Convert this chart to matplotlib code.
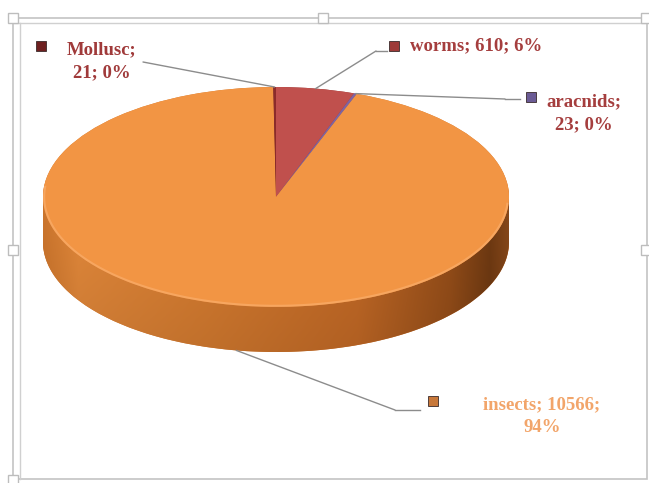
import numpy as np
import matplotlib
matplotlib.use('Agg')
import matplotlib.pyplot as plt
from matplotlib.path import Path
from matplotlib.patches import PathPatch, Rectangle

# ---- data (clockwise from 12 o'clock) ----
categories = ['worms', 'aracnids', 'insects', 'Mollusc']
values = [610, 23, 10566, 21]
percent_labels = ['6%', '0%', '94%', '0%']

# ---- styles ----
top_colors = ['#C0504D', '#8064A2', '#F29544', '#8B2B2B']
side_colors = ['#8E3A37', '#5E4A7A', '#D07A35', '#6A2020']
marker_colors = ['#9E3A38', '#6B5B95', '#C8783A', '#6E2020']
text_colors = ['#A53E3E', '#A53E3E', '#F2A56A', '#A03A3A']

W, H = 649, 483
fig = plt.figure(figsize=(W / 100, H / 100), dpi=100)
fig.patch.set_facecolor('white')

depth = 0.41
ax_pie = fig.add_axes([43 / W, (H - 352) / H, 466 / W, 265 / H])

# side of the 3D pie: stacked layers
n_layers = 40
for i in range(n_layers + 1):
    d = depth * (1 - i / n_layers)
    ax_pie.pie(values, colors=side_colors, startangle=90, counterclock=False,
               center=(0, -d), radius=1, wedgeprops=dict(linewidth=0))

# shading gradient over the visible side
t = np.linspace(np.pi, 2 * np.pi, 300)
verts = list(zip(np.cos(t), np.sin(t))) + list(zip(np.cos(t[::-1]), np.sin(t[::-1]) - depth))
verts.append(verts[0])
codes = [Path.MOVETO] + [Path.LINETO] * (len(verts) - 2) + [Path.CLOSEPOLY]
side_path = Path(verts, codes)
clip_patch = PathPatch(side_path, facecolor='none', edgecolor='none', transform=ax_pie.transData)
ax_pie.add_patch(clip_patch)

gx = np.linspace(-1, 1, 400)
stops_x = [-1.0, -0.85, -0.3, 0.35, 0.75, 0.92, 1.0]
stops_c = np.array([(205, 118, 45), (226, 136, 58), (214, 124, 48), (196, 106, 38),
                    (150, 78, 25), (112, 58, 18), (135, 72, 26)]) / 255.0
row = np.stack([np.interp(gx, stops_x, stops_c[:, k]) for k in range(3)], axis=-1)
gy = np.linspace(0, 1, 100)[:, None, None]
img = row[None, :, :] * (1.0 - 0.10 * gy)
img = np.clip(img, 0, 1)
im = ax_pie.imshow(img, extent=(-1, 1, -1 - depth, 0), origin='upper', aspect='auto',
                   interpolation='bilinear', zorder=3)
im.set_clip_path(clip_patch)

# top face
wedges, _ = ax_pie.pie(values, colors=top_colors, startangle=90, counterclock=False,
                       center=(0, 0), radius=1, wedgeprops=dict(linewidth=0))
for w in wedges:
    w.set_zorder(4)

# bevel highlight on the front edge of top
tt = np.linspace(np.pi * 0.97, 2 * np.pi * 0.99, 300)
ax_pie.plot(np.cos(tt) * 0.995, np.sin(tt) * 0.99, color='#FFC08A', lw=1.5, alpha=0.4, zorder=5)

ax_pie.set_xlim(-1, 1)
ax_pie.set_ylim(-1 - depth, 1)
ax_pie.set_aspect('auto')
ax_pie.axis('off')

# ---- overlay (pixel coordinates) ----
ax = fig.add_axes([0, 0, 1, 1], zorder=5)
ax.set_xlim(0, W)
ax.set_ylim(H, 0)
ax.axis('off')
ax.patch.set_alpha(0)

# frame with selection handles
ax.add_patch(Rectangle((13, 18), 634, 461, fill=False, ec='#C4C4C4', lw=1.2))
ax.plot([20, 20], [23, 479], color='#D0D0D0', lw=1)
ax.plot([13, 647], [23, 23], color='#D0D0D0', lw=1)
for hx, hy in [(13, 18), (323, 18), (646, 18), (13, 250), (646, 250), (13, 480)]:
    ax.add_patch(Rectangle((hx - 5, hy - 5), 10, 10, fc='white', ec='#BDBDBD', lw=1, zorder=6))

# label geometry
total = sum(values)
cum = np.cumsum([0] + values[:-1])
mid_angles = [np.deg2rad(90 - 360 * (c + v / 2) / total) for c, v in zip(cum, values)]

label_lines = {
    'worms': f'{categories[0]}; {values[0]}; {percent_labels[0]}',
    'aracnids': f'{categories[1]};\n{values[1]}; {percent_labels[1]}',
    'insects': f'{categories[2]}; {values[2]};\n{percent_labels[2]}',
    'Mollusc': f'{categories[3]};\n{values[3]}; {percent_labels[3]}',
}
# (text x, text y, ha, marker x, marker y, elbow x, elbow y, line end x)
layout = {
    'worms': (410, 46, 'left', 394, 46, 376, 51, 387),
    'aracnids': (584, 113, 'center', 531, 97, 505, 99, 520),
    'insects': (542, 416, 'center', 433, 401, 395, 410, 420),
    'Mollusc': (102, 61, 'center', 41, 46, 143, 62, 143),
}
front = {'insects'}

font = dict(family=['Liberation Serif', 'DejaVu Serif'], weight='bold', size=13.5)
for i, cat in enumerate(categories):
    tx, ty, ha, mx, my, ex, ey, lx = layout[cat]
    a = mid_angles[i]
    px, py = np.cos(a), np.sin(a) - (depth if cat in front else 0)
    ax.annotate('', xy=(px, py), xycoords=ax_pie.transData, xytext=(ex, ey), textcoords='data',
                arrowprops=dict(arrowstyle='-', color='#8C8C8C', lw=1, shrinkA=0, shrinkB=0))
    if lx != ex:
        ax.plot([ex, lx], [ey, ey], color='#8C8C8C', lw=1)
    ax.plot(mx, my, marker='s', markersize=6.5, color=marker_colors[i],
            markeredgecolor='#3A2A2A', markeredgewidth=0.6)
    ax.text(tx, ty, label_lines[cat], ha=ha, va='center', multialignment='center',
            color=text_colors[i], linespacing=1.5, **font)

fig.savefig('out.png', dpi=100, facecolor='white')
